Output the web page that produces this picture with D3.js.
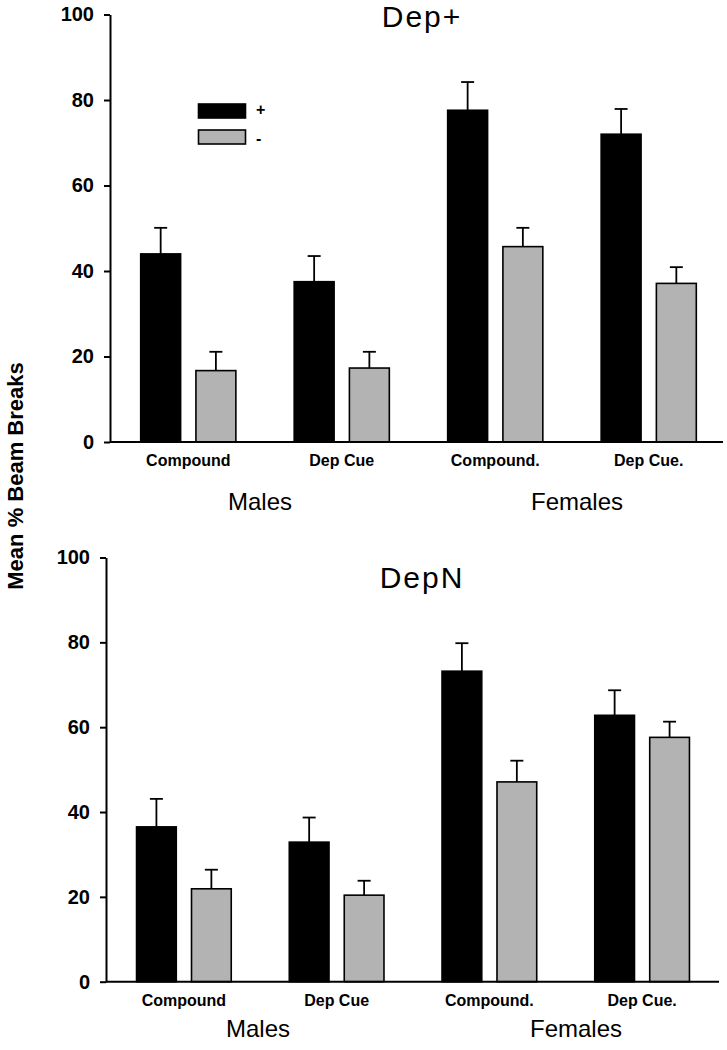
<!DOCTYPE html>
<html>
<head>
<meta charset="utf-8">
<script src="https://cdn.jsdelivr.net/npm/d3@7"></script>
<style>
  html, body { margin: 0; padding: 0; background: #fff; }
  svg { display: block; }
  text { font-family: Arial, "Liberation Sans", sans-serif; fill: #000; }
</style>
</head>
<body>
<svg id="chart" width="727" height="1050"></svg>
<script>
// ---- data ----
const categories = ["Compound", "Dep Cue", "Compound.", "Dep Cue."];
const groups = ["Males", "Females"];
const series = ["+", "-"];
const seriesColors = ["#000000", "#b3b3b3"];
const yTicks = [0, 20, 40, 60, 80, 100];

const depPlusPos    = [44.0, 37.5, 77.6, 72.0];
const depPlusPosErr = [6.1, 6.0, 6.6, 5.9];
const depPlusNeg    = [16.7, 17.3, 45.7, 37.1];
const depPlusNegErr = [4.4, 3.8, 4.4, 3.8];

const depNPos    = [36.5, 32.9, 73.2, 62.8];
const depNPosErr = [6.6, 5.8, 6.6, 5.9];
const depNNeg    = [21.9, 20.4, 47.1, 57.6];
const depNNegErr = [4.5, 3.4, 5.0, 3.7];

const panels = [
  { title: "Dep+", values: [depPlusPos, depPlusNeg], errors: [depPlusPosErr, depPlusNegErr],
    layout: { axisX: 110, y0: 442, y100: 14.5, xEnd: 723, rEnd: 727, titleY: 27, groupY: 510, groupX: [260, 577], legend: true } },
  { title: "DepN", values: [depNPos, depNNeg], errors: [depNPosErr, depNNegErr],
    layout: { axisX: 106, y0: 981.7, y100: 557.5, xEnd: 719, rEnd: 720, titleY: 588, groupY: 1037, groupX: [258, 576], legend: false } }
];

const svg = d3.select("#chart");

panels.forEach(p => {
  const L = p.layout;
  const g = svg.append("g");
  const y = d3.scaleLinear().domain([0, 100]).range([L.y0, L.y100]);
  const x = d3.scaleBand().domain(categories).range([L.axisX, L.rEnd])
    .paddingInner(0.38).paddingOuter(0.2);
  const xs = d3.scaleBand().domain(series).range([0, x.bandwidth()]).paddingInner(0.277);

  // bars
  series.forEach((s, si) => {
    const data = categories.map((c, i) => ({ c, v: p.values[si][i], e: p.errors[si][i] }));
    // error bars (upward only)
    const eg = g.append("g").attr("stroke", "#000").attr("stroke-width", 1.8).attr("fill", "none");
    eg.selectAll("line.v").data(data).join("line")
      .attr("x1", d => x(d.c) + xs(s) + xs.bandwidth() / 2)
      .attr("x2", d => x(d.c) + xs(s) + xs.bandwidth() / 2)
      .attr("y1", d => y(d.v))
      .attr("y2", d => y(d.v + d.e));
    eg.selectAll("line.cap").data(data).join("line")
      .attr("x1", d => x(d.c) + xs(s) + xs.bandwidth() / 2 - 6.5)
      .attr("x2", d => x(d.c) + xs(s) + xs.bandwidth() / 2 + 6.5)
      .attr("y1", d => y(d.v + d.e))
      .attr("y2", d => y(d.v + d.e));
    g.append("g").selectAll("rect").data(data).join("rect")
      .attr("x", d => x(d.c) + xs(s))
      .attr("y", d => y(d.v))
      .attr("width", xs.bandwidth())
      .attr("height", d => y(0) - y(d.v))
      .attr("fill", seriesColors[si])
      .attr("stroke", "#000")
      .attr("stroke-width", 1.6);
  });

  // y axis
  const ya = g.append("g").attr("transform", `translate(${L.axisX},0)`)
    .call(d3.axisLeft(y).tickValues(yTicks).tickSize(6).tickSizeOuter(0).tickPadding(10));
  ya.select(".domain").attr("stroke", "#000").attr("stroke-width", 2);
  ya.selectAll(".tick line").attr("stroke", "#000").attr("stroke-width", 2);
  ya.selectAll(".tick text").attr("font-family", "Arial, 'Liberation Sans', sans-serif")
    .attr("font-size", 20).attr("font-weight", "bold").attr("fill", "#000");

  // x axis line
  g.append("line").attr("x1", L.axisX).attr("x2", L.xEnd).attr("y1", L.y0).attr("y2", L.y0)
    .attr("stroke", "#000").attr("stroke-width", 2);
  const xa = g.append("g").attr("transform", `translate(0,${L.y0})`)
    .call(d3.axisBottom(x).tickSize(0).tickPadding(12.6));
  xa.select(".domain").remove();
  xa.selectAll(".tick text").attr("font-family", "Arial, 'Liberation Sans', sans-serif")
    .attr("font-size", 16).attr("font-weight", "bold").attr("fill", "#000");

  // group labels
  g.selectAll("text.grp").data(groups).join("text")
    .attr("class", "grp")
    .attr("x", (d, i) => L.groupX[i]).attr("y", L.groupY)
    .attr("text-anchor", "middle").attr("font-size", 24)
    .text(d => d);

  // title
  g.append("text").attr("x", 422).attr("y", L.titleY).attr("text-anchor", "middle")
    .attr("font-size", 30).attr("letter-spacing", 2).text(p.title);

  // legend
  if (L.legend) {
    const lg = g.append("g");
    series.forEach((s, si) => {
      lg.append("rect").attr("x", 198.5).attr("y", 104 + si * 26).attr("width", 47).attr("height", 14)
        .attr("fill", seriesColors[si]).attr("stroke", "#000").attr("stroke-width", 1.6);
      lg.append("text").attr("x", 256).attr("y", 115 + si * 29).attr("font-size", 16)
        .attr("font-weight", "bold").text(s);
    });
  }
});

// y axis title
svg.append("text")
  .attr("transform", "translate(23,476) rotate(-90)")
  .attr("text-anchor", "middle").attr("font-size", 22).attr("font-weight", "bold")
  .text("Mean % Beam Breaks");
</script>
</body>
</html>
